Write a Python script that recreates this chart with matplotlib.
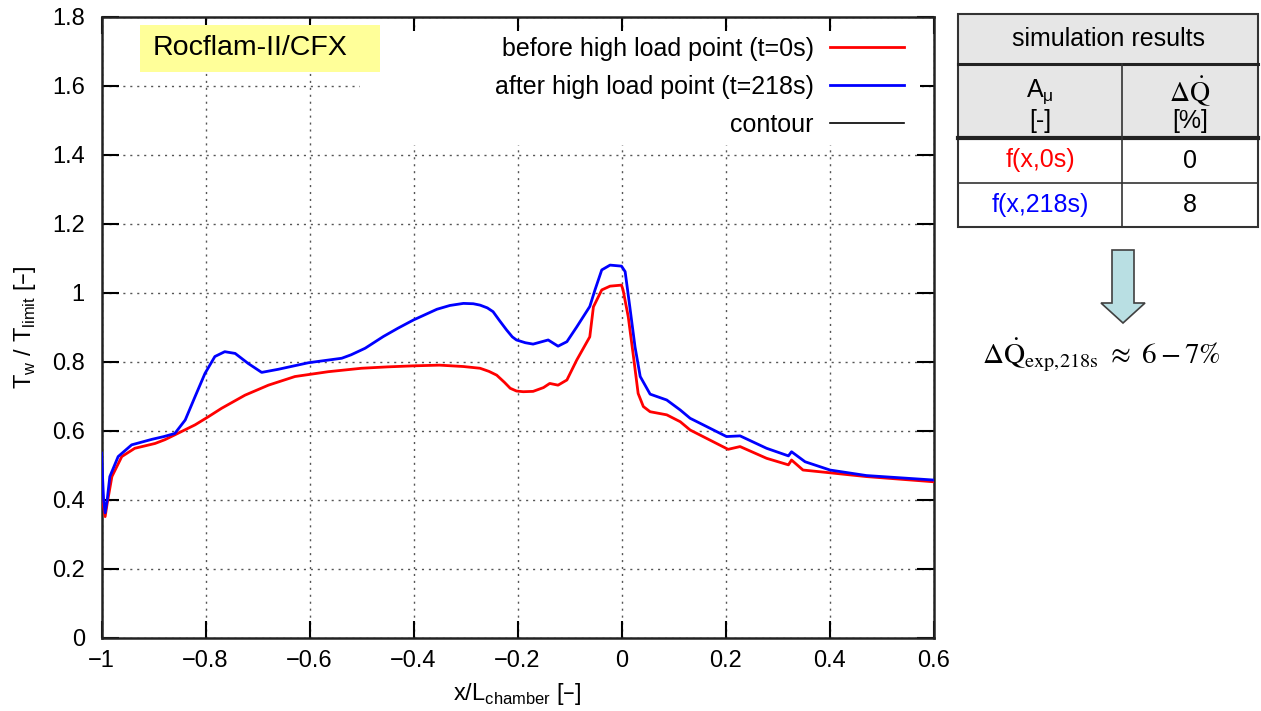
import matplotlib
matplotlib.use("Agg")
import matplotlib.pyplot as plt
from matplotlib.patches import Rectangle, Polygon
from matplotlib.ticker import FuncFormatter

# --- données ---
x_red = [-1.000, -0.996, -0.993, -0.989, -0.980, -0.961, -0.936, -0.897, -0.878, -0.859,
         -0.820, -0.795, -0.769, -0.724, -0.679, -0.628, -0.564, -0.500, -0.450, -0.400,
         -0.350, -0.304, -0.272, -0.255, -0.240, -0.225, -0.214, -0.202, -0.189, -0.170,
         -0.150, -0.138, -0.122, -0.105, -0.086, -0.061, -0.054, -0.038, -0.022, 0.000,
         0.003, 0.013, 0.023, 0.032, 0.042, 0.055, 0.087, 0.113, 0.132, 0.205,
         0.228, 0.279, 0.321, 0.327, 0.349, 0.401, 0.471, 0.600]
y_red = [0.46, 0.38, 0.351, 0.39, 0.467, 0.525, 0.549, 0.563, 0.574, 0.588,
         0.617, 0.640, 0.665, 0.703, 0.732, 0.757, 0.771, 0.781, 0.785, 0.788,
         0.790, 0.786, 0.781, 0.772, 0.761, 0.740, 0.723, 0.715, 0.713, 0.714,
         0.725, 0.737, 0.732, 0.747, 0.805, 0.872, 0.959, 1.008, 1.019, 1.022,
         1.008, 0.930, 0.815, 0.708, 0.670, 0.655, 0.646, 0.626, 0.602, 0.546,
         0.554, 0.520, 0.501, 0.515, 0.486, 0.478, 0.467, 0.452]

x_blue = [-1.000, -0.996, -0.993, -0.989, -0.984, -0.968, -0.942, -0.903, -0.880, -0.859,
          -0.839, -0.820, -0.801, -0.782, -0.763, -0.743, -0.718, -0.692, -0.660, -0.602,
          -0.538, -0.520, -0.493, -0.458, -0.430, -0.400, -0.355, -0.330, -0.304, -0.285,
          -0.272, -0.258, -0.247, -0.235, -0.221, -0.210, -0.202, -0.185, -0.170, -0.141,
          -0.122, -0.105, -0.086, -0.061, -0.051, -0.038, -0.022, 0.000, 0.007, 0.016,
          0.026, 0.036, 0.055, 0.087, 0.113, 0.132, 0.202, 0.228, 0.279, 0.321,
          0.327, 0.353, 0.401, 0.471, 0.600]
y_blue = [0.535, 0.40, 0.362, 0.40, 0.467, 0.525, 0.559, 0.575, 0.583, 0.592,
          0.631, 0.699, 0.766, 0.815, 0.829, 0.824, 0.795, 0.769, 0.778, 0.797,
          0.810, 0.820, 0.839, 0.873, 0.897, 0.921, 0.952, 0.963, 0.969, 0.968,
          0.964, 0.956, 0.945, 0.920, 0.892, 0.872, 0.863, 0.855, 0.851, 0.863,
          0.845, 0.858, 0.901, 0.960, 1.008, 1.066, 1.080, 1.077, 1.061, 0.959,
          0.843, 0.757, 0.706, 0.689, 0.660, 0.636, 0.583, 0.585, 0.549, 0.527,
          0.539, 0.510, 0.486, 0.470, 0.457]

x_ticks = [-1, -0.8, -0.6, -0.4, -0.2, 0, 0.2, 0.4, 0.6]
y_ticks = [0, 0.2, 0.4, 0.6, 0.8, 1, 1.2, 1.4, 1.6, 1.8]

labels = ["before high load point (t=0s)", "after high load point (t=218s)", "contour"]

# tableau de droite
table_rows = ["f(x,0s)", "f(x,218s)"]
table_dq = [0, 8]
table_colors = ["#ff0000", "#0000ff"]

plt.rcParams['font.family'] = ['Liberation Sans', 'DejaVu Sans']

fig = plt.figure(figsize=(12.61, 7.11), dpi=100)
W, H = 1261, 711
ax = fig.add_axes([101.5 / W, 1 - 637.7 / H, 832 / W, 621 / H])

ax.plot(x_red, y_red, color='#ff0000', lw=2.0, label=labels[0], zorder=3)
ax.plot(x_blue, y_blue, color='#0000ff', lw=2.0, label=labels[1], zorder=3)
ax.plot([], [], color='black', lw=1.2, label=labels[2])

ax.set_xlim(-1, 0.6)
ax.set_ylim(0, 1.8)
ax.set_xticks(x_ticks)
ax.set_yticks(y_ticks)
fmt = FuncFormatter(lambda v, p: ('%g' % v).replace('-', '\u2212'))
ax.xaxis.set_major_formatter(fmt)
ax.yaxis.set_major_formatter(fmt)
ax.tick_params(direction='in', top=True, right=True, length=12, width=1.5, labelsize=17)
ax.tick_params(axis='y', pad=12)
ax.tick_params(axis='x', pad=9)
for s in ax.spines.values():
    s.set_linewidth(1.8)
    s.set_color('#222222')

ax.grid(True, linestyle=(0, (1.5, 3.5)), color='#555555', linewidth=1.0)

# zone blanche derrière la légende (masque la grille)
ax.add_patch(Rectangle((0.311, 0.793), 1 - 0.311 - 14 / 832, 1 - 0.793 - 14 / 621,
                       transform=ax.transAxes, facecolor='white', edgecolor='none', zorder=1.6))

ax.set_xlabel('x/L$_{\\mathregular{chamber}}$ [\u2013]', fontsize=17, labelpad=6)
ax.set_ylabel('T$_{\\mathregular{w}}$ / T$_{\\mathregular{limit}}$ [\u2013]', fontsize=17, labelpad=10)

leg = ax.legend(loc='upper right', bbox_to_anchor=(0.9645, 0.967), frameon=False,
                markerfirst=False, fontsize=18, handlelength=2.95, handletextpad=0.65,
                labelspacing=0.56, borderpad=0, borderaxespad=0)
leg.set_zorder(5)

# boîte jaune
ax.add_patch(Rectangle((0.046, 0.911), 0.289, 0.076, transform=ax.transAxes,
                       facecolor='#ffff99', edgecolor='none', zorder=3))
ax.text(0.0619, 0.949, 'Rocflam-II/CFX', transform=ax.transAxes, fontsize=20.5,
        va='center', ha='left', zorder=4)

# --- tableau + flèche + formule, en coordonnées pixel ---
ov = fig.add_axes([0, 0, 1, 1])
ov.set_xlim(0, W)
ov.set_ylim(H, 0)
ov.axis('off')

L, R, C = 958, 1258, 1122
rows_y = [14, 64, 138, 183, 227]
ov.add_patch(Rectangle((L, rows_y[0]), R - L, rows_y[2] - rows_y[0], facecolor='#e6e6e6', edgecolor='none'))
ov.add_patch(Rectangle((L, rows_y[0]), R - L, rows_y[4] - rows_y[0], facecolor='none',
                       edgecolor='#333333', lw=1.5))
ov.plot([L, R], [rows_y[1], rows_y[1]], color='#222222', lw=2.2)
ov.plot([L, R], [rows_y[2], rows_y[2]], color='#222222', lw=3.0)
ov.plot([L, R], [rows_y[3], rows_y[3]], color='#333333', lw=1.2)
ov.plot([C, C], [rows_y[1], rows_y[4]], color='#333333', lw=1.2)

c1, c2 = (L + C) / 2, (C + R) / 2
ov.text((L + R) / 2, 39, 'simulation results', fontsize=18, ha='center', va='center')
ov.text(c1, 92, 'A$_{\\mathregular{μ}}$', fontsize=18, ha='center', va='center')
ov.text(c1, 121, '[-]', fontsize=18, ha='center', va='center')
ov.text(c2, 91, r'$\Delta\dot{\mathrm{Q}}$', fontsize=20, ha='center', va='center', math_fontfamily='stix')
ov.text(c2, 121, '[%]', fontsize=18, ha='center', va='center')
for i, (name, dq, col) in enumerate(zip(table_rows, table_dq, table_colors)):
    yc = (rows_y[2 + i] + rows_y[3 + i]) / 2
    ov.text(c1, yc, name, fontsize=18, ha='center', va='center', color=col)
    ov.text(c2, yc, str(dq), fontsize=18, ha='center', va='center')

arrow = [(1112, 250), (1134, 250), (1134, 303), (1145, 303), (1123, 323),
         (1101, 303), (1112, 303)]
ov.add_patch(Polygon(arrow, closed=True, facecolor='#b9dfe3', edgecolor='#404040', lw=1.2))

ov.text(1101, 355, r'$\Delta\dot{\mathrm{Q}}_{\mathrm{exp{,}218s}}\ \approx\ 6-7\%$', fontsize=21,
        ha='center', va='center', math_fontfamily='stix')

fig.savefig('out.png', dpi=100)
